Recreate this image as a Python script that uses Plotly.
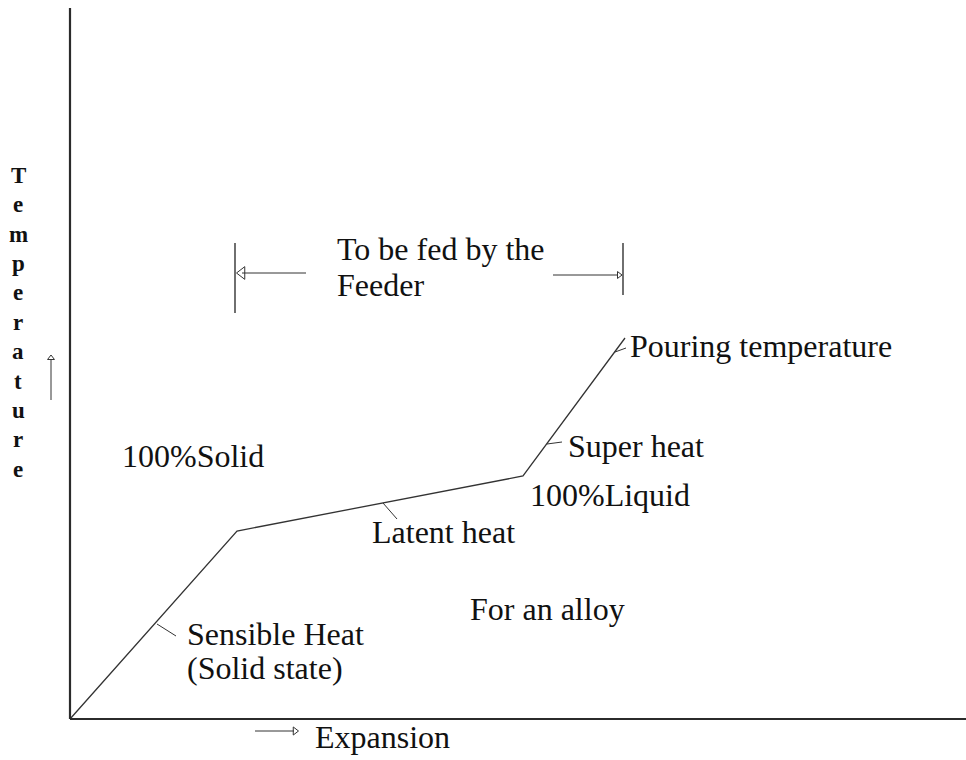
import plotly.graph_objects as go

# Cooling / heating curve of an alloy (schematic): expansion vs temperature
expansion = [0, 167, 453, 555]
temperature = [0, 188, 243, 381]

axis_title_y = "Temperature"
axis_title_x = "Expansion"

FONT = "Liberation Serif, Times New Roman, serif"
INK = "#111111"
LINE = "#333333"

fig = go.Figure()

# the curve itself
fig.add_trace(go.Scatter(x=expansion, y=temperature, mode="lines",
                         line=dict(color=LINE, width=1.3), hoverinfo="skip"))


def seg(x0, y0, x1, y1, width=1.0, color=LINE):
    fig.add_trace(go.Scatter(x=[x0, x1], y=[y0, y1], mode="lines",
                             line=dict(color=color, width=width), hoverinfo="skip"))


def head(x, y, symbol, size):
    fig.add_trace(go.Scatter(x=[x], y=[y], mode="markers",
                             marker=dict(symbol=symbol, size=size, color=LINE,
                                         line=dict(color=LINE, width=1)),
                             hoverinfo="skip"))


# axes
seg(0, 0, 0, 711, width=2.2, color="#2b2b2b")
seg(0, 0, 896, 0, width=2.2, color="#2b2b2b")

# feeder bracket
seg(165, 406, 165, 476, width=1.4)
seg(553, 424, 553, 476, width=1.4)
seg(172, 446, 236, 446)
head(172, 446, "triangle-left-open", 11)
seg(483, 444, 548, 444)
head(549, 444, "triangle-right-open", 6)

# temperature arrow (left) and expansion arrow (bottom)
seg(-19, 319, -19, 360)
head(-19, 361, "triangle-up-open", 6)
seg(185, -12, 224, -12)
head(225, -12, "triangle-right-open", 7)

# leader ticks from curve to labels
seg(545, 367, 556, 371)
seg(477, 275, 492, 277)
seg(313, 216, 327, 200)
seg(87, 95, 106, 83)

labels = [
    ("To be fed by the", 265, 469.8),
    ("Feeder", 265, 433.8),
    ("Pouring temperature", 558, 372.8),
    ("Super heat", 496, 272.8),
    ("100%Liquid", 458, 223.8),
    ("100%Solid", 50, 262.8),
    ("Latent heat", 300, 186.8),
    ("For an alloy", 398, 109.8),
    ("Sensible Heat", 115, 84.8),
    ("(Solid state)", 115, 50.8),
    (axis_title_x, 243, -18.2),
]
for text, x, y in labels:
    fig.add_annotation(x=x, y=y, text=text, showarrow=False, xanchor="left",
                       yanchor="middle", font=dict(family=FONT, size=32, color=INK))

# vertical stacked axis title
for i, ch in enumerate(axis_title_y):
    base = 183 + 29.4 * i
    fig.add_annotation(x=-52, y=719 - (base - 7.8), text="<b>%s</b>" % ch,
                       showarrow=False, xanchor="center", yanchor="middle",
                       font=dict(family=FONT, size=23, color=INK))

fig.update_layout(
    width=966, height=760,
    margin=dict(l=0, r=0, t=0, b=0),
    paper_bgcolor="white", plot_bgcolor="white",
    showlegend=False,
    xaxis=dict(range=[-70, 896], visible=False, fixedrange=True),
    yaxis=dict(range=[-41, 719], visible=False, fixedrange=True),
)

fig.write_html("out.html")
